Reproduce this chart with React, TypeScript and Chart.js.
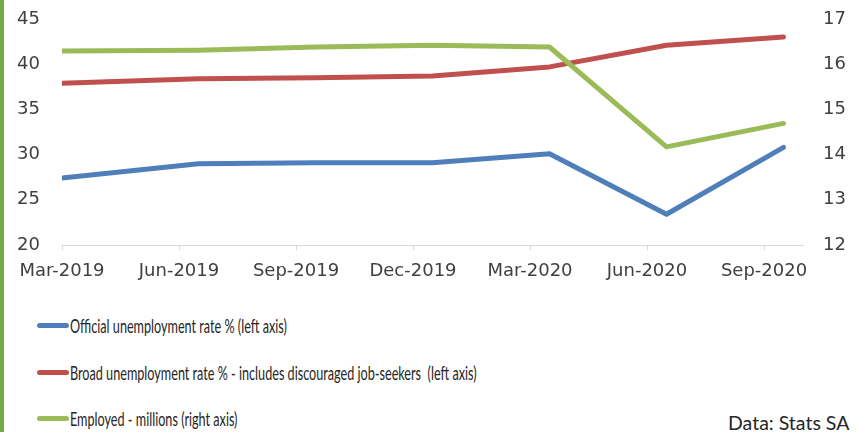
import React, { useEffect, useRef } from "react";
import { Chart, registerables } from "chart.js";

Chart.register(...registerables);

const tickLabels = ["Mar-2019", "Jun-2019", "Sep-2019", "Dec-2019", "Mar-2020", "Jun-2020", "Sep-2020"];
const tickMonths = [0, 3, 6, 9, 12, 15, 18];
const pointMonths = [0, 3.5, 6.5, 9.5, 12.5, 15.5, 18.5];
const officialRate = [27.4, 29.0, 29.1, 29.1, 30.1, 23.4, 30.8];
const broadRate = [37.9, 38.4, 38.5, 38.7, 39.7, 42.1, 43.0];
const employedMillions = [16.29, 16.31, 16.38, 16.42, 16.38, 14.17, 14.69];

const seriesNames = [
  "Official unemployment rate % (left axis)",
  "Broad unemployment rate % - includes discouraged job-seekers  (left axis)",
  "Employed - millions (right axis)",
];
const seriesColors = ["#4f7fba", "#c0504d", "#9bbb59"];

const tickFont = { family: "DejaVu Sans", size: 18 };

export default function App() {
  const canvasRef = useRef<HTMLCanvasElement | null>(null);

  useEffect(() => {
    const canvas = canvasRef.current;
    if (!canvas) return;
    const toPts = (vals: number[]) => vals.map((v, i) => ({ x: pointMonths[i], y: v }));
    const chart = new Chart(canvas, {
      type: "line",
      data: {
        datasets: [
          {
            label: seriesNames[0],
            data: toPts(officialRate),
            borderColor: seriesColors[0],
            yAxisID: "yL",
            order: 2,
          },
          {
            label: seriesNames[1],
            data: toPts(broadRate),
            borderColor: seriesColors[1],
            yAxisID: "yL",
            order: 1,
          },
          {
            label: seriesNames[2],
            data: toPts(employedMillions),
            borderColor: seriesColors[2],
            yAxisID: "yR",
            order: 0,
          },
        ],
      },
      options: {
        responsive: false,
        animation: false,
        layout: { padding: { top: 19, left: 0, right: 0, bottom: 0 } },
        elements: {
          line: { borderWidth: 5, tension: 0, borderCapStyle: "round", borderJoinStyle: "round" },
          point: { radius: 0, hoverRadius: 0 },
        },
        plugins: { legend: { display: false }, tooltip: { enabled: false } },
        scales: {
          x: {
            type: "linear",
            min: 0,
            max: 19,
            afterBuildTicks: (scale: any) => {
              scale.ticks = tickMonths.map((v) => ({ value: v }));
            },
            afterFit: (scale: any) => {
              scale.height = 45;
            },
            ticks: {
              font: tickFont,
              color: "#404040",
              padding: 11,
              maxRotation: 0,
              autoSkip: false,
              callback: (v: any) => {
                const i = tickMonths.indexOf(Number(v));
                return i >= 0 ? tickLabels[i] : "";
              },
            },
            grid: { display: true, drawOnChartArea: false, drawTicks: true, tickLength: 5, color: "#d9d9d9" },
            border: { display: true, color: "#d9d9d9", width: 1 },
          },
          yL: {
            type: "linear",
            position: "left",
            min: 20,
            max: 45,
            afterFit: (scale: any) => {
              scale.width = 62;
            },
            ticks: { stepSize: 5, font: tickFont, color: "#404040", padding: 0 },
            grid: { display: false, drawTicks: true, tickLength: 22 },
            border: { display: false },
          },
          yR: {
            type: "linear",
            position: "right",
            min: 12,
            max: 17,
            afterFit: (scale: any) => {
              scale.width = 57;
            },
            ticks: { stepSize: 1, font: tickFont, color: "#404040", padding: 0 },
            grid: { display: false, drawTicks: true, tickLength: 20 },
            border: { display: false },
          },
        },
      } as any,
    });
    return () => chart.destroy();
  }, []);

  const rowTops = [325, 372, 418];

  return (
    <div style={{ position: "absolute", left: 0, top: 0, width: 860, height: 432, background: "#fff", overflow: "hidden" }}>
      <div style={{ position: "absolute", left: 0, top: 0, width: 4, height: 432, background: "#70ad47" }} />
      <canvas ref={canvasRef} width={860} height={290} style={{ position: "absolute", left: 0, top: 0, width: 860, height: 290 }} />
      {seriesNames.map((name, i) => (
        <div key={name} style={{ position: "absolute", left: 37, top: rowTops[i] - 13, height: 26, display: "flex", alignItems: "center", whiteSpace: "pre" }}>
          <span style={{ display: "inline-block", width: 32, height: 5, borderRadius: 3, background: seriesColors[i] }} />
          <span style={{ display: "inline-block", marginLeft: 1, fontFamily: "Lato", fontSize: 19, color: "#262626", whiteSpace: "pre", transform: "scaleX(0.665)", transformOrigin: "left center" }}>
            {name}
          </span>
        </div>
      ))}
      <div style={{ position: "absolute", left: 728, top: 410, fontFamily: "Lato", fontSize: 19.5, color: "#262626", whiteSpace: "nowrap", lineHeight: "26px" }}>
        Data: Stats SA
      </div>
    </div>
  );
}
